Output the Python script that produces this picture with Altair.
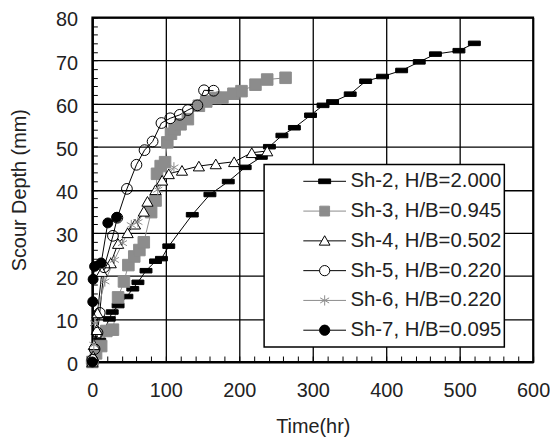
import altair as alt
import pandas as pd

# ---------------- data ----------------
names = ["Sh-2, H/B=2.000", "Sh-3, H/B=0.945", "Sh-4, H/B=0.502",
         "Sh-5, H/B=0.220", "Sh-6, H/B=0.220", "Sh-7, H/B=0.095"]

sh2_t = [0, 10, 23, 27, 35, 47, 55, 62, 73, 86, 94, 104, 136, 160, 185, 208, 230, 241,
         258, 275, 297, 314, 327, 351, 372, 395, 421, 445, 467, 499, 520]
sh2_d = [0, 5, 10, 11.6, 13.1, 15.2, 17, 18.5, 21.2, 23.4, 24, 26.9, 34.2, 38.9, 41.9, 45.2,
         47.6, 50, 52.6, 54.4, 57.3, 59.6, 60.4, 62.2, 65.2, 66.3, 67.7, 69.7, 71.5, 72.3, 74.0]

sh3_t = [0, 5, 12, 19, 28, 35, 43, 49, 57, 64, 70, 80, 86, 88, 93, 99, 102, 107, 112, 120,
         130, 145, 155, 168, 177, 192, 203, 222, 238, 263]
sh3_d = [0, 2, 3.7, 7.2, 7.5, 15, 18.7, 22.5, 24.5, 26, 27.8, 34.8, 37.5, 43.7, 45.5, 46.4,
         51, 53, 54, 55.2, 56.4, 59.5, 60.5, 61.3, 61.4, 62.3, 62.9, 64.4, 65.6, 66]

sh4_t = [0, 1, 2, 6, 7, 13, 25, 35, 48, 58, 70, 75, 86, 95, 104, 122, 145, 168, 193, 217, 238]
sh4_d = [0, 1.4, 4, 7.5, 11.4, 21, 23, 27.5, 30, 32, 35, 37.3, 40, 42.2, 43.7, 44.5, 45.5,
         46, 46.5, 48.6, 49]

sh5_t = [0, 3, 7, 10, 16, 28, 34, 47, 60, 71, 82, 94, 106, 119, 130, 143, 152, 165]
sh5_d = [0.5, 3, 6.8, 11.4, 22, 29.3, 33.5, 40.2, 45.8, 49.2, 51.2, 55.5, 56.6, 57.4, 58.5,
         59.6, 63.1, 63]

sh6_t = [0, 2, 3, 17, 30, 41, 53, 62, 89, 111]
sh6_d = [0, 4, 9, 18.7, 23.7, 27.6, 31.8, 32.5, 40, 45.2]

sh7_t = [0, 0.5, 1, 3, 12, 21, 33]
sh7_d = [0, 14, 19.2, 22.2, 23, 32.3, 33.6]

times = [sh2_t, sh3_t, sh4_t, sh5_t, sh6_t, sh7_t]
depths = [sh2_d, sh3_d, sh4_d, sh5_d, sh6_d, sh7_d]

x_major = list(range(0, 601, 100))
x_minor = list(range(0, 601, 20))
y_major = list(range(0, 81, 10))
y_minor = list(range(0, 81, 2))

# ---------------- styles ----------------
GRAY = "#8c8c8c"
line_colors = ["black", GRAY, "black", "black", GRAY, "black"]
marker_strokes = ["black", GRAY, "black", "black", GRAY, "black"]
marker_fills = ["black", GRAY, "white", "transparent", "transparent", "black"]
marker_shapes = [
    "M-1,-0.38L1,-0.38L1,0.38L-1,0.38Z",
    "square",
    "triangle-up",
    "circle",
    "M0,-1L0,1M-0.87,-0.5L0.87,0.5M-0.87,0.5L0.87,-0.5",
    "circle",
]
marker_sizes = [144, 100, 110, 170, 121, 120]

legend_shapes = [
    "M-1,0L1,0M-0.28,-0.11L0.28,-0.11L0.28,0.11L-0.28,0.11Z",
    "M-1,0L1,0M-0.23,-0.23L0.23,-0.23L0.23,0.23L-0.23,0.23Z",
    "M-1,0L-0.136,0M0.136,0L1,0M0,-0.24L0.25,0.2L-0.25,0.2Z",
    "M-1,0L-0.24,0M0.24,0L1,0M0.24,0A0.24,0.24 0 1,1 -0.24,0A0.24,0.24 0 1,1 0.24,0Z",
    "M-1,0L1,0M0,-0.24L0,0.24M-0.21,-0.12L0.21,0.12M-0.21,0.12L0.21,-0.12",
    "M-1,0L-0.24,0M0.24,0L1,0M0.24,0A0.24,0.24 0 1,1 -0.24,0A0.24,0.24 0 1,1 0.24,0Z",
]

rows = []
for name, ts, ds in zip(names, times, depths):
    for i, (t, d) in enumerate(zip(ts, ds)):
        rows.append({"series": name, "t": t, "d": d, "i": i})
df = pd.DataFrame(rows)

W, H = 444, 347
FONT = "Liberation Sans"
TXT = "#222222"

xs = alt.Scale(domain=[0, 600], nice=False, zero=False)
ys = alt.Scale(domain=[0, 80], nice=False, zero=False)

main_x_axis = alt.Axis(
    orient="bottom", values=x_major, grid=True, gridColor="black", gridWidth=1.3,
    tickSize=0, domain=True, domainColor="black", domainWidth=2,
    labelFont=FONT, labelFontSize=20, labelColor=TXT, labelPadding=35,
    labelBaseline="alphabetic", labelFlush=False, labelOverlap=False,
    title="Time(hr)", titleFont=FONT, titleFontSize=20, titleFontWeight=400,
    titleColor=TXT, titleX=W / 2, titleY=71, titleBaseline="alphabetic", titleAlign="center",
)
main_y_axis = alt.Axis(
    orient="left", values=y_major, grid=True, gridColor="black", gridWidth=1.3,
    tickSize=0, domain=True, domainColor="black", domainWidth=2,
    labelFont=FONT, labelFontSize=20, labelColor=TXT, labelPadding=15,
    labelBaseline="alphabetic", labelOffset=8.5, labelFlush=False, labelOverlap=False,
    title="Scour Depth (mm)", titleFont=FONT, titleFontSize=20, titleFontWeight=400,
    titleColor=TXT, titleX=-67, titleY=H / 2, titleAngle=270,
    titleBaseline="alphabetic", titleAlign="center",
)
minor_x_axis = alt.Axis(
    orient="top", offset=-H, values=x_minor, tickSize=6, tickColor="black", tickWidth=1,
    labels=False, domain=False, grid=False, title=None,
)
minor_y_axis = alt.Axis(
    orient="right", offset=-W, values=y_minor, tickSize=5, tickColor="black", tickWidth=1,
    labels=False, domain=False, grid=False, title=None,
)

lines = alt.Chart(df).mark_line(strokeWidth=1).encode(
    x=alt.X("t:Q", scale=xs, axis=main_x_axis),
    y=alt.Y("d:Q", scale=ys, axis=main_y_axis),
    stroke=alt.Stroke("series:N", scale=alt.Scale(domain=names, range=line_colors), legend=None),
    order=alt.Order("i:Q"),
)

points = alt.Chart(df).mark_point(filled=True, strokeWidth=1, opacity=1).encode(
    x=alt.X("t:Q", scale=xs, axis=None),
    y=alt.Y("d:Q", scale=ys, axis=None),
    shape=alt.Shape("series:N", scale=alt.Scale(domain=names, range=marker_shapes), legend=None),
    fill=alt.Fill("series:N", scale=alt.Scale(domain=names, range=marker_fills), legend=None),
    stroke=alt.Stroke("series:N", scale=alt.Scale(domain=names, range=marker_strokes), legend=None),
    size=alt.Size("series:N", scale=alt.Scale(domain=names, range=marker_sizes), legend=None),
)

leg = alt.Legend(
    orient="none", legendX=173, legendY=148, title=None, padding=2,
    strokeColor="black", fillColor="white", cornerRadius=0,
    symbolSize=1849, symbolStrokeWidth=1, symbolOffset=37, symbolOpacity=1,
    labelOffset=4, labelFont=FONT, labelFontSize=20.5, labelColor=TXT, labelLimit=400,
    clipHeight=30, rowPadding=0,
    labelExpr="datum.label + '\u00a0\u00a0\u00a0'",
)

legend_layer = alt.Chart(df).mark_point(filled=True, strokeWidth=1, opacity=0).encode(
    x=alt.X("t:Q", scale=xs, axis=minor_x_axis),
    y=alt.Y("d:Q", scale=ys, axis=minor_y_axis),
    shape=alt.Shape("series:N", scale=alt.Scale(domain=names, range=legend_shapes), legend=leg),
    fill=alt.Fill("series:N", scale=alt.Scale(domain=names, range=marker_fills), legend=leg),
    stroke=alt.Stroke("series:N", scale=alt.Scale(domain=names, range=marker_strokes), legend=leg),
)

chart = alt.layer(lines, points, legend_layer).resolve_axis(
    x="independent", y="independent"
).resolve_scale(
    shape="independent", fill="independent", stroke="independent", size="independent"
).resolve_legend(
    shape="independent", fill="independent", stroke="independent", size="independent"
).properties(
    width=W, height=H,
    autosize=alt.AutoSizeParams(type="none"),
    padding={"left": 85, "top": 8, "right": 17, "bottom": 76},
).configure_view(
    stroke="black", strokeWidth=2
).configure_axis(
    titleFontWeight="normal"
).configure_legend(
    strokeWidth=1.5
)

chart.save("out.html", embed_options={"renderer": "svg", "actions": False})
